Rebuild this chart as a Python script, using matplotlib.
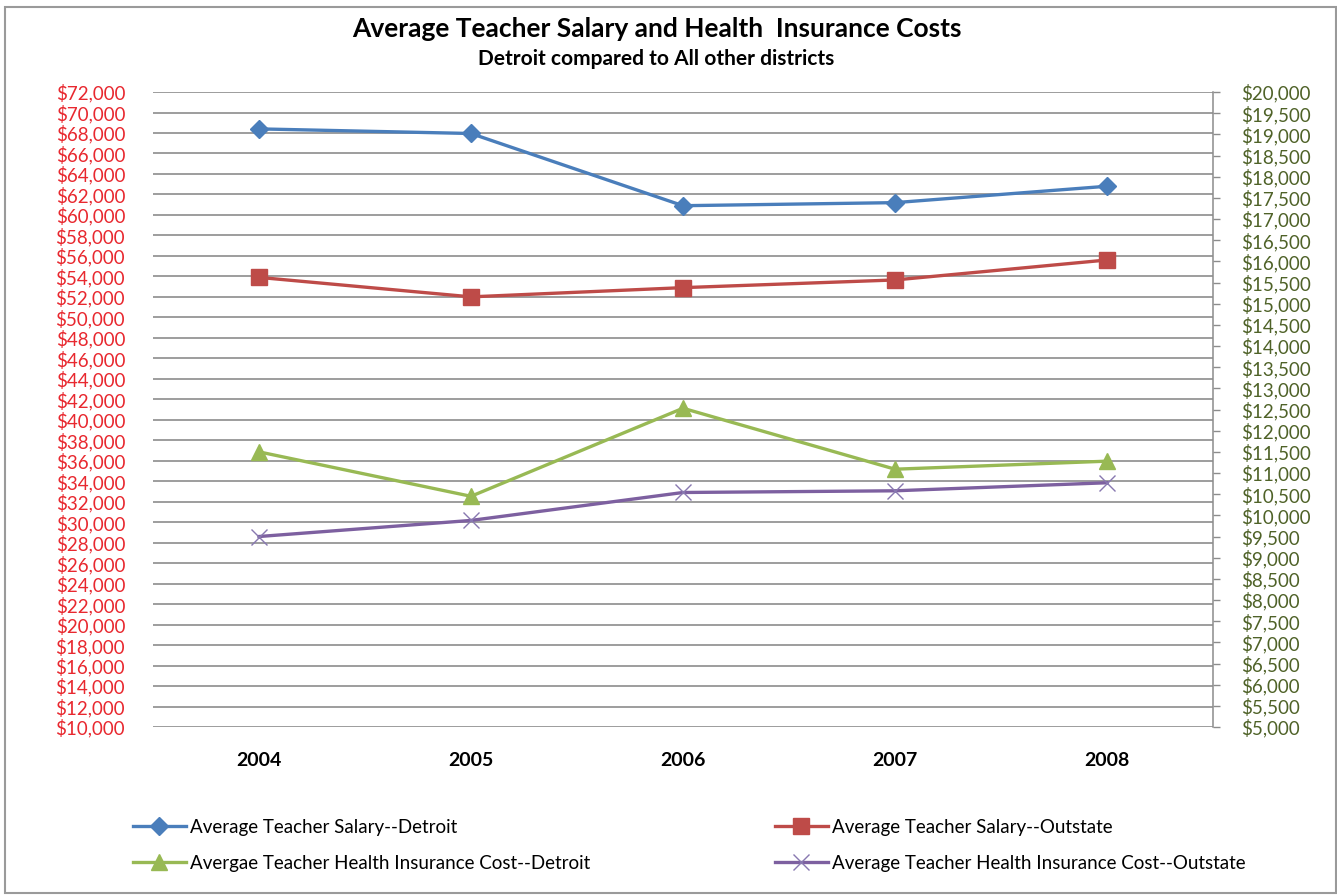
import matplotlib.pyplot as plt
from matplotlib.patches import Rectangle
from matplotlib.ticker import FuncFormatter, MultipleLocator

plt.rcParams['font.family'] = ['Lato', 'DejaVu Sans']

years = ['2004', '2005', '2006', '2007', '2008']

# salaries (left axis)
salary_detroit = [68400, 67950, 60900, 61200, 62800]
salary_outstate = [53900, 52000, 52900, 53650, 55600]

# health insurance costs (right axis)
health_detroit = [11500, 10450, 12530, 11090, 11280]
health_outstate = [9500, 9880, 10540, 10580, 10770]

labels = [
    'Average Teacher Salary--Detroit',
    'Average Teacher Salary--Outstate',
    'Avergae Teacher Health Insurance Cost--Detroit',
    'Average Teacher Health Insurance Cost--Outstate',
]

BLUE = '#4a7ebb'
RED = '#be4b48'
GREEN = '#98b954'
PURPLE = '#7d60a0'
LEFT_TXT = '#e8282f'
RIGHT_TXT = '#4f6228'
GRID = '#8c8c8c'

money = FuncFormatter(lambda v, _: f'${v:,.0f}')

fig = plt.figure(figsize=(13.37, 8.96), dpi=100)
fig.patches.append(Rectangle((0.004, 0.003), 0.995, 0.989, transform=fig.transFigure,
                             fill=False, edgecolor='#9a9a9a', linewidth=1.5))

ax = fig.add_axes([0.1144, 0.1886, 0.7929, 0.7087])
ax2 = ax.twinx()

x = range(len(years))
l1, = ax.plot(x, salary_detroit, color=BLUE, lw=2.4, marker='D', ms=9.5, label=labels[0])
l2, = ax.plot(x, salary_outstate, color=RED, lw=2.4, marker='s', ms=11, label=labels[1])
l3, = ax2.plot(x, health_detroit, color=GREEN, lw=2.4, marker='^', ms=11, label=labels[2])
l4, = ax2.plot(x, health_outstate, color=PURPLE, lw=2.4, marker='x', ms=11, mew=1.0,
               mec='#8878b0', label=labels[3])

ax.set_xlim(-0.5, 4.5)
ax.set_ylim(10000, 72000)
ax2.set_ylim(5000, 20000)

ax.yaxis.set_major_locator(MultipleLocator(2000))
ax.yaxis.set_major_formatter(money)
ax2.yaxis.set_major_locator(MultipleLocator(500))
ax2.yaxis.set_major_formatter(money)

ax.set_xticks(list(x))
ax.set_xticklabels(years, fontweight='bold', fontsize=14)
ax.tick_params(axis='x', length=0, pad=18)
ax.tick_params(axis='y', length=0, pad=20, labelsize=13.5, labelcolor=LEFT_TXT)
ax2.tick_params(axis='y', length=5, width=1, color=GRID, direction='out', pad=15,
                labelsize=13.5, labelcolor=RIGHT_TXT)

ax.grid(axis='y', color=GRID, linewidth=1.2)
ax.set_axisbelow(True)
for a in (ax, ax2):
    for side in ('top', 'left', 'bottom', 'right'):
        a.spines[side].set_visible(False)
ax2.spines['right'].set_visible(True)
ax2.spines['right'].set_color(GRID)
ax2.spines['right'].set_linewidth(1.1)

fig.text(0.491, 0.968, 'Average Teacher Salary and Health  Insurance Costs',
         ha='center', va='center', fontsize=19, fontweight='bold')
fig.text(0.491, 0.934, 'Detroit compared to All other districts',
         ha='center', va='center', fontsize=15, fontweight='bold')

legend_kw = dict(frameon=False, fontsize=13.5, handlelength=2.8, handletextpad=0.25,
                 labelspacing=1.0, borderaxespad=0, borderpad=0, loc='upper left')
fig.legend(handles=[l1, l3], bbox_to_anchor=(0.0995, 0.086), **legend_kw)
fig.legend(handles=[l2, l4], bbox_to_anchor=(0.5797, 0.086), **legend_kw)

fig.savefig('out.png', dpi=100)
